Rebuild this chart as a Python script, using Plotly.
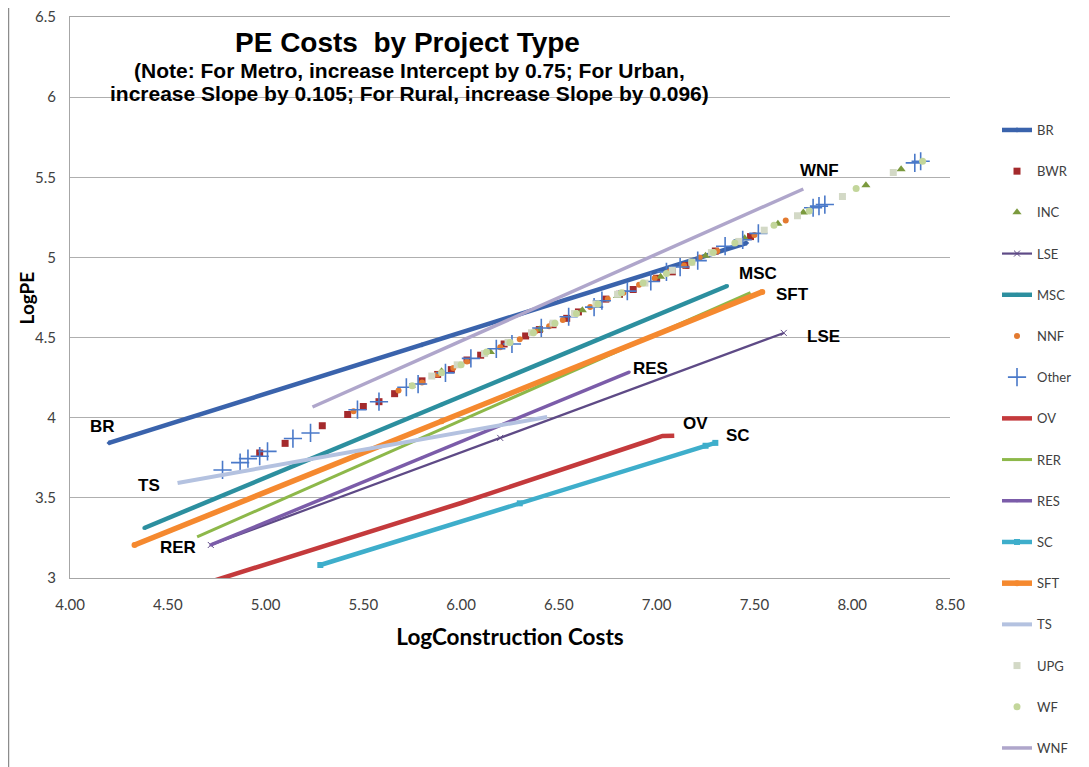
import plotly.graph_objects as go

# ---------------- data ----------------
BR_x = [4.20, 5.80, 7.46]
BR_y = [3.843, 4.455, 5.090]

BWR_x = [4.97, 5.10, 5.29, 5.42, 5.50, 5.58, 5.66, 5.80, 5.88, 5.95, 6.03, 6.10, 6.22, 6.33, 6.40, 6.47, 6.54,
         6.60, 6.74, 6.81, 6.88, 7.00, 7.08, 7.15, 7.30, 7.48]
BWR_y = [3.78, 3.84, 3.95, 4.02, 4.07, 4.10, 4.15, 4.23, 4.27, 4.30, 4.36, 4.39, 4.46, 4.51, 4.55, 4.58, 4.62,
         4.66, 4.74, 4.77, 4.80, 4.87, 4.91, 4.95, 5.04, 5.13]

INC_x = [5.90, 6.15, 6.40, 6.62, 6.80, 7.02, 7.25, 7.45, 7.62, 7.75, 8.07, 8.25]
INC_y = [4.29, 4.41, 4.55, 4.67, 4.76, 4.88, 5.01, 5.12, 5.21, 5.28, 5.45, 5.55]

LSE_x = [4.72, 6.20, 7.65]
LSE_y = [3.206, 3.874, 4.529]

MSC_x = [4.38, 5.90, 7.36]
MSC_y = [3.312, 4.082, 4.822]

NNF_x = [5.45, 5.68, 5.80, 5.88, 5.96, 6.03, 6.12, 6.20, 6.30, 6.38, 6.45, 6.52, 6.59, 6.66, 6.75, 6.83,
         6.91, 6.99, 7.06, 7.14, 7.22, 7.31, 7.40, 7.50, 7.66]
NNF_y = [4.04, 4.17, 4.22, 4.27, 4.31, 4.35, 4.40, 4.44, 4.49, 4.54, 4.57, 4.61, 4.65, 4.69, 4.74, 4.78,
         4.83, 4.87, 4.91, 4.95, 5.00, 5.04, 5.09, 5.14, 5.23]

Other_x = [4.78, 4.87, 4.91, 4.97, 5.01, 5.14, 5.23, 5.47, 5.58, 5.72, 5.78, 5.92, 6.05, 6.18, 6.26, 6.41,
           6.55, 6.68, 6.72, 6.85, 6.97, 7.05, 7.12, 7.21, 7.35, 7.44, 7.52, 7.80, 7.83, 7.86, 8.32, 8.35]
Other_y = [3.674, 3.72, 3.745, 3.76, 3.79, 3.87, 3.905, 4.05, 4.10, 4.19, 4.21, 4.28, 4.37, 4.43, 4.46, 4.56,
           4.63, 4.69, 4.73, 4.79, 4.85, 4.91, 4.94, 4.98, 5.07, 5.11, 5.15, 5.31, 5.32, 5.33, 5.59, 5.60]

OV_x = [4.68, 6.00, 6.97, 7.03, 7.09]
OV_y = [2.962, 3.468, 3.861, 3.886, 3.888]

RER_x = [4.65, 6.10, 7.48]
RER_y = [3.256, 4.037, 4.780]

RES_x = [4.72, 5.80, 6.86]
RES_y = [3.206, 3.750, 4.285]

SC_x = [5.28, 6.30, 7.25, 7.30]
SC_y = [3.081, 3.466, 3.825, 3.843]

SFT_x = [4.33, 5.90, 7.54]
SFT_y = [3.206, 3.978, 4.785]

TS_x = [4.55, 5.50, 6.44]
TS_y = [3.593, 3.800, 4.005]

UPG_x = [5.85, 5.98, 6.12, 6.24, 6.36, 6.47, 6.58, 6.69, 6.80, 6.94, 7.08, 7.18, 7.28, 7.42, 7.55, 7.72, 7.95, 8.21]
UPG_y = [4.26, 4.33, 4.40, 4.47, 4.53, 4.59, 4.65, 4.71, 4.77, 4.84, 4.92, 4.97, 5.03, 5.10, 5.17, 5.26, 5.38, 5.53]

WF_x = [5.75, 5.90, 6.00, 6.13, 6.25, 6.37, 6.48, 6.59, 6.70, 6.82, 6.93, 7.05, 7.18, 7.29, 7.40, 7.60, 7.78, 8.02, 8.36]
WF_y = [4.20, 4.28, 4.33, 4.41, 4.47, 4.53, 4.59, 4.65, 4.71, 4.78, 4.84, 4.90, 4.97, 5.03, 5.09, 5.20, 5.29, 5.43, 5.60]

WNF_x = [5.24, 6.50, 7.75]
WNF_y = [4.067, 4.750, 5.427]

x_ticks = [4.0, 4.5, 5.0, 5.5, 6.0, 6.5, 7.0, 7.5, 8.0, 8.5]
x_tick_text = ["4.00", "4.50", "5.00", "5.50", "6.00", "6.50", "7.00", "7.50", "8.00", "8.50"]
y_ticks = [3, 3.5, 4, 4.5, 5, 5.5, 6, 6.5]
y_tick_text = ["3", "3.5", "4", "4.5", "5", "5.5", "6", "6.5"]

title_text = "PE Costs  by Project Type"
note_lines = ["(Note: For Metro, increase Intercept by 0.75; For Urban,",
              "increase Slope by 0.105; For Rural, increase Slope by 0.096)"]

# line labels inside the chart: (text, x, y)
line_labels = [("BR", 4.164, 3.948), ("TS", 4.404, 3.580), ("RER", 4.552, 3.193),
               ("RES", 6.966, 4.310), ("OV", 7.196, 3.961), ("SC", 7.416, 3.886),
               ("LSE", 7.851, 4.504), ("WNF", 7.835, 5.545), ("MSC", 7.518, 4.897),
               ("SFT", 7.697, 4.766)]
others_labels = ["Others", "BWR", "INC", "UPG", "NNF", "WF"]
others_label_y = [5.950, 5.794, 5.644, 5.488, 5.320, 5.164]

# ---------------- figure ----------------
fig = go.Figure()

def line_tr(name, x, y, color, width, marker=None, msize=4):
    mode = "lines+markers" if marker else "lines"
    fig.add_trace(go.Scatter(
        x=x, y=y, name=name, mode=mode, legendgroup=name,
        line=dict(color=color, width=width),
        marker=dict(symbol=marker or "circle", size=msize, color=color),
    ))

def pts_tr(name, x, y, color, symbol, size):
    fig.add_trace(go.Scatter(
        x=x, y=y, name=name, mode="markers", legendgroup=name,
        marker=dict(symbol=symbol, size=size, color=color,
                    line=dict(width=1.6 if "cross" in symbol else 0, color=color)),
    ))

line_tr("BR", BR_x, BR_y, "#3A63AC", 4.5, "diamond", 4)
pts_tr("BWR", BWR_x, BWR_y, "#A42A2C", "square", 7)
pts_tr("INC", INC_x, INC_y, "#7B9A3E", "triangle-up", 8)
line_tr("LSE", LSE_x, LSE_y, "#5E4A86", 2.2, "x-thin-open", 6)
line_tr("MSC", MSC_x, MSC_y, "#2C8F9F", 4.5, "circle", 4)
pts_tr("NNF", NNF_x, NNF_y, "#E37A30", "circle", 6)
pts_tr("Other", Other_x, Other_y, "#4A79C9", "cross-thin-open", 13)
line_tr("OV", OV_x, OV_y, "#C43A3C", 4.5)
line_tr("RER", RER_x, RER_y, "#8DB84A", 3)
line_tr("RES", RES_x, RES_y, "#7B5CA9", 3.5, "circle", 3)
line_tr("SC", SC_x, SC_y, "#3EAECB", 4.5, "square", 6)
line_tr("SFT", SFT_x, SFT_y, "#F5892F", 5.5, "circle", 6)
line_tr("TS", TS_x, TS_y, "#B4C2E0", 4)
pts_tr("UPG", UPG_x, UPG_y, "#D3D9C6", "square", 7)
pts_tr("WF", WF_x, WF_y, "#C3D69B", "circle", 7)
line_tr("WNF", WNF_x, WNF_y, "#AFA6CB", 3.5)

BOLD = "Liberation Sans, Arial, sans-serif"
annotations = [
    dict(xref="paper", yref="paper", x=0.384, y=0.954, xanchor="center", yanchor="middle",
         showarrow=False, text="<b>" + title_text + "</b>",
         font=dict(family=BOLD, size=28, color="#000000")),
    dict(xref="paper", yref="paper", x=0.386, y=0.9055, xanchor="center", yanchor="middle",
         showarrow=False, text="<b>" + note_lines[0] + "</b>",
         font=dict(family=BOLD, size=21, color="#000000")),
    dict(xref="paper", yref="paper", x=0.386, y=0.8645, xanchor="center", yanchor="middle",
         showarrow=False, text="<b>" + note_lines[1] + "</b>",
         font=dict(family=BOLD, size=21, color="#000000")),
    # y-axis title
    dict(xref="paper", yref="paper", x=-0.0489, y=0.5, xanchor="center", yanchor="middle",
         showarrow=False, text="<b>LogPE</b>", textangle=-90,
         font=dict(family="Lato, sans-serif", size=19, color="#000000")),
]
for t, x, y in line_labels:
    annotations.append(dict(xref="x", yref="y", x=x, y=y, text="<b>" + t + "</b>", showarrow=False,
                            xanchor="center", yanchor="middle",
                            font=dict(family=BOLD, size=17, color="#000000")))
for t, y in zip(others_labels, others_label_y):
    annotations.append(dict(xref="x", yref="y", x=8.53, y=y, text="<b>" + t + "</b>", showarrow=False,
                            xanchor="center", yanchor="middle",
                            font=dict(family=BOLD, size=18, color="#000000")))

fig.update_layout(
    width=1081, height=759,
    margin=dict(l=62, r=139, t=9, b=189, autoexpand=False),
    paper_bgcolor="white", plot_bgcolor="white",
    font=dict(family="Lato, Open Sans, sans-serif", color="#404040"),
    showlegend=True,
    legend=dict(xref="container", yref="container", x=0.9149, y=0.859, xanchor="left", yanchor="top",
                maxheight=720,
                font=dict(family="Lato, sans-serif", size=13, color="#404040"),
                tracegroupgap=21.3, bgcolor="rgba(0,0,0,0)", itemwidth=30),
    annotations=annotations,
    shapes=[dict(type="line", xref="paper", yref="paper", x0=-0.0699, x1=-0.0699, y0=-0.34, y1=1.02,
                 line=dict(color="#8C8C8C", width=1.5))],
    xaxis=dict(range=[4, 8.5], tickvals=x_ticks, ticktext=x_tick_text, showgrid=False,
               showline=True, linecolor="#A6A6A6", linewidth=1, ticks="", zeroline=False,
               mirror=True,
               tickfont=dict(family="Lato, sans-serif", size=15, color="#404040"),
               ticklabelstandoff=13,
               title=dict(text="<b>LogConstruction Costs</b>", standoff=17,
                          font=dict(family="Lato, sans-serif", size=22.5, color="#000000"))),
    yaxis=dict(range=[3, 6.5], tickvals=y_ticks, ticktext=y_tick_text, showgrid=True,
               gridcolor="#AFAFAF", gridwidth=1, showline=True, linecolor="#A6A6A6", linewidth=1,
               ticks="", zeroline=False, ticklabeloverflow="allow",
               tickfont=dict(family="Lato, sans-serif", size=15, color="#404040"),
               ticklabelstandoff=10),
)

fig.write_html("out.html")
